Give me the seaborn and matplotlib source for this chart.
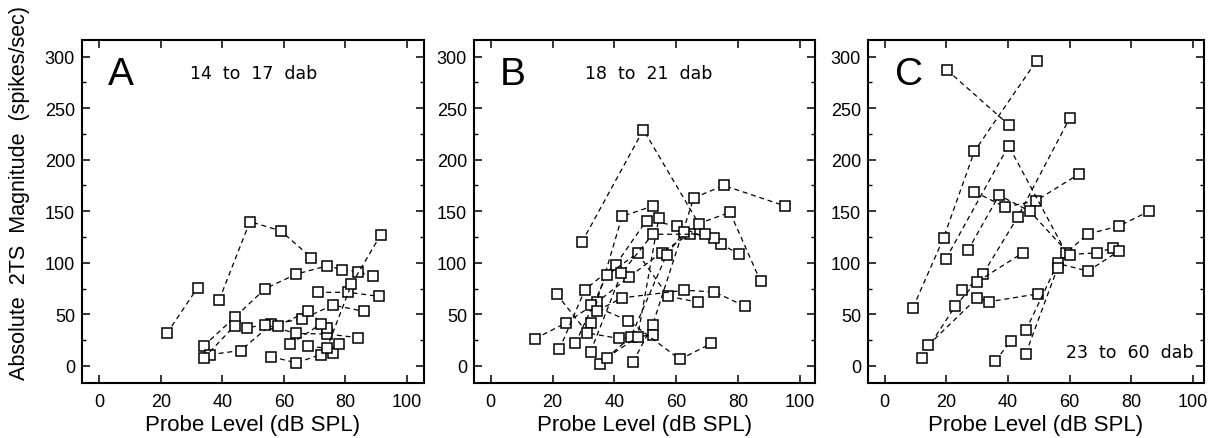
import matplotlib
matplotlib.use("Agg")
import matplotlib.pyplot as plt
import seaborn as sns
import pandas as pd
from matplotlib.ticker import MultipleLocator

sns.set_theme(style="ticks")
plt.rcParams["font.family"] = ["Liberation Sans", "DejaVu Sans"]
plt.rcParams["text.color"] = "black"
plt.rcParams["axes.labelcolor"] = "black"
plt.rcParams["xtick.color"] = "black"
plt.rcParams["ytick.color"] = "black"

# ---------------- data (probe level dB SPL, 2TS magnitude spikes/sec) -------------
panel_a_levels = [
    [22, 32],
    [39, 49, 59, 69],
    [34, 44, 54, 64, 74, 79, 84, 89],
    [36, 46, 56, 66, 76, 86],
    [34, 44, 48, 54, 64, 74, 84],
    [58, 68, 74],
    [71, 81, 91],
    [62, 72],
    [56, 64, 72, 76, 78],
    [68, 74, 82, 91.5],
]
panel_a_mags = [
    [31.5, 76],
    [64, 140, 131, 105],
    [19.5, 47, 75, 89, 97, 93.5, 91.5, 87],
    [11, 15, 40.5, 45.5, 59, 53],
    [7.5, 39, 37, 40, 31.5, 31, 27.5],
    [39, 53, 37],
    [71.4, 71.4, 67.5],
    [21, 40.5],
    [9, 3, 11, 13, 21],
    [19.5, 17, 79, 127],
]

panel_b_levels = [
    [29.5, 49.4, 67.3, 77.4, 87.3],
    [14.3, 24.4, 34.5, 44.6, 55.3, 64.4],
    [22.2, 30.5, 40.4, 50.4, 60.3, 74.4, 80.2],
    [46.1, 52.4, 65.7, 75.4, 95.3],
    [32.3, 42.5, 52.4],
    [21.3, 31.3, 41.4, 52.4],
    [27.4, 37.5, 47.5, 57.4, 67.2],
    [35.3, 45.3, 56.9, 62.5, 72.3],
    [37.5, 47.5, 54.4],
    [32.3, 42.3, 52.4, 69.3],
    [32.3, 44.5, 61.2, 71.4],
    [34.5, 42.5, 62.5, 72.3, 82.2],
]
panel_b_mags = [
    [120, 229, 138, 149, 82],
    [26.4, 41.8, 62, 86, 110, 128],
    [16, 74, 98, 141, 136, 118, 109],
    [4.2, 40, 163, 175, 155],
    [41.8, 145, 155],
    [69.8, 32, 26.7, 30],
    [21.9, 87.8, 109.4, 67.6, 61.8],
    [2.3, 28, 107.8, 129.7, 123.9],
    [8, 28, 143.8],
    [13.8, 90, 127.7, 127.7],
    [59.5, 44, 6.4, 21.9],
    [53.7, 66, 73.4, 71.8, 58],
]

panel_c_levels = [
    [20.2, 40.2],
    [9.2, 19.1, 29.1, 49.3],
    [29.1, 39.1, 49, 63],
    [19.9, 40.2, 58.9, 66, 75.9, 85.8],
    [27, 37.1, 47.1, 60, 68.9, 74],
    [12, 22.9, 31.8, 43.1, 60],
    [14.1, 30, 33.9, 49.9],
    [25.1, 30, 45],
    [35.9, 40.9],
    [45.8, 56.1, 66, 75.9],
    [45.8, 56.1],
]
panel_c_mags = [
    [287, 234],
    [56.5, 124, 208, 296],
    [169, 154, 160, 186],
    [104, 213.5, 109.7, 128, 135.5, 150],
    [112, 165.5, 150, 108, 109.7, 114.5],
    [8, 58, 88.7, 144, 240],
    [20, 66, 62.3, 70],
    [73.9, 81.6, 110],
    [4.8, 24.2],
    [34.5, 99.4, 92, 111.3],
    [12, 95.2],
]

panel_letters = ["A", "B", "C"]
panel_notes = ["14  to  17  dab", "18  to  21  dab", "23  to  60  dab"]
x_ticks = [0, 20, 40, 60, 80, 100]
y_ticks = [0, 50, 100, 150, 200, 250, 300]
x_label = "Probe Level (dB SPL)"
y_label = "Absolute  2TS  Magnitude  (spikes/sec)"


def to_frame(levels, mags):
    rows = []
    for i, (xs, ys) in enumerate(zip(levels, mags)):
        for x, y in zip(xs, ys):
            rows.append({"series": i, "level": x, "mag": y})
    return pd.DataFrame(rows)


frames = [
    to_frame(panel_a_levels, panel_a_mags),
    to_frame(panel_b_levels, panel_b_mags),
    to_frame(panel_c_levels, panel_c_mags),
]

W, H = 1213, 439
fig = plt.figure(figsize=(W / 100, H / 100), dpi=100)
fig.patch.set_facecolor("white")

boxes = [(82, 424), (474, 815), (868, 1204)]
xlims = [(-5.6, 105.6), (-5.4, 104.9), (-5.4, 103.6)]
top_px, bot_px = 41, 384
note_pos = [(0.316, 0.905), (0.326, 0.905), (0.59, 0.09)]
letter_x = [0.075, 0.075, 0.08]

for k, df in enumerate(frames):
    l, r = boxes[k]
    ax = fig.add_axes([l / W, (H - bot_px) / H, (r - l) / W, (bot_px - top_px) / H])
    sns.lineplot(
        data=df, x="level", y="mag", units="series", estimator=None, sort=False,
        color="black", linestyle=(0, (4, 3)), linewidth=0.9,
        marker="s", markersize=6.8, markerfacecolor="white",
        markeredgecolor="black", markeredgewidth=1.1, legend=False, ax=ax,
    )
    ax.set_xlim(*xlims[k])
    ax.set_ylim(-16.5, 316)
    ax.set_xticks(x_ticks)
    ax.set_yticks(y_ticks)
    ax.yaxis.set_minor_locator(MultipleLocator(25))
    ax.tick_params(which="both", direction="in", top=True, right=True,
                   color="black", labelsize=13, labelcolor="black")
    ax.tick_params(which="major", length=6, width=1.1)
    ax.tick_params(which="minor", length=3, width=1.0)
    ax.tick_params(axis="y", pad=5)
    ax.tick_params(axis="x", pad=7)
    for s in ax.spines.values():
        s.set_linewidth(1.5)
        s.set_color("black")
    ax.set_xlabel(x_label, fontsize=16, labelpad=3, color="black")
    ax.set_ylabel("")
    ax.set_facecolor("white")
    ax.text(letter_x[k], 0.872, panel_letters[k], transform=ax.transAxes,
            fontsize=28, ha="left", va="baseline", color="black")
    ax.text(note_pos[k][0], note_pos[k][1], panel_notes[k], transform=ax.transAxes,
            fontsize=12.5, ha="left", va="center", color="black",
            family=["DejaVu Sans"])

fig.text(20 / W, 1 - 193 / H, y_label, rotation=90, ha="center", va="center",
         fontsize=15.5, color="black")

fig.savefig("out.png", dpi=100, facecolor="white")
